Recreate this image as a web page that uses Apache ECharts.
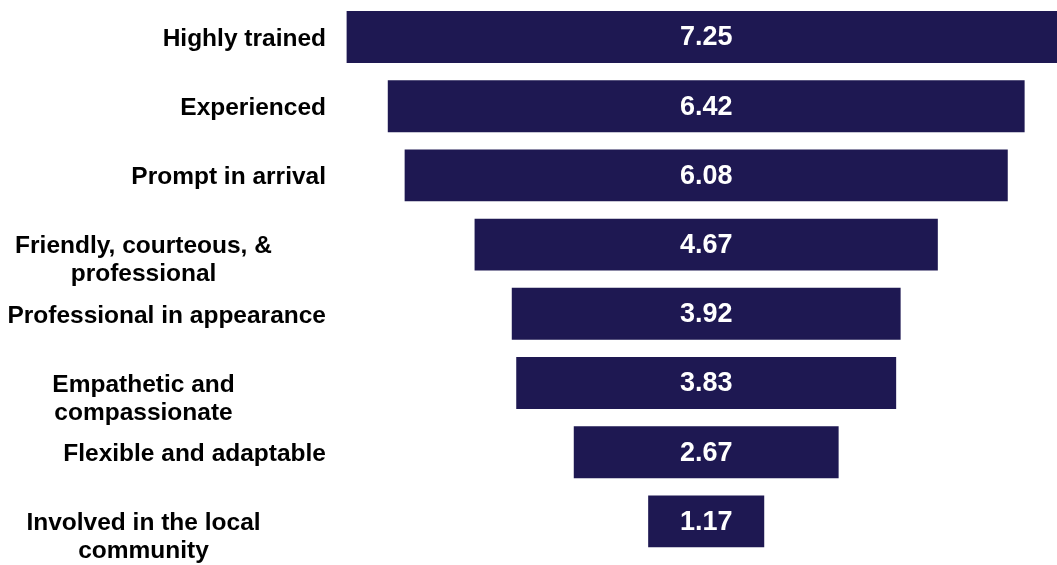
<!DOCTYPE html>
<html>
<head>
<meta charset="utf-8">
<script src="https://cdn.jsdelivr.net/npm/echarts@6/dist/echarts.min.js"></script>
<style>
  html, body { margin: 0; padding: 0; background: #ffffff; }
  #chart { width: 1057px; height: 565px; }
</style>
</head>
<body>
<div id="chart"></div>
<script>
// Attribute labels, top to bottom
const categories = [
  'Highly trained',
  'Experienced',
  'Prompt in arrival',
  'Friendly, courteous, &\nprofessional',
  'Professional in appearance',
  'Empathetic and\ncompassionate',
  'Flexible and adaptable',
  'Involved in the local\ncommunity'
];

// Average score per attribute
const scores = [7.25, 6.42, 6.08, 4.67, 3.92, 3.83, 2.67, 1.17];

// Span of the value axis; bars are centred on its midpoint
const AXIS_SPAN = 7.464;

const BAR_COLOR = '#1e1852';
const FONT = '"Liberation Sans", Arial, sans-serif';
const LABEL_SIZE = 24.5;
const LINE_H = 28;

const chart = echarts.init(document.getElementById('chart'));

// Invisible spacer that pushes each bar so that it sits centred on the axis
const spacer = scores.map(v => (AXIS_SPAN - v) / 2);

chart.setOption({
  animation: false,
  grid: {
    left: 336, top: 2.4, width: 740.4, bottom: 9,
    containLabel: false,
    outerBoundsMode: 'none'
  },
  xAxis: {
    type: 'value',
    min: 0,
    max: AXIS_SPAN,
    show: false
  },
  yAxis: {
    type: 'category',
    data: categories,
    inverse: true,
    axisLine: { show: false },
    axisTick: { show: false },
    splitLine: { show: false },
    axisLabel: {
      margin: 10,
      align: 'right',
      color: '#000000',
      fontFamily: FONT,
      fontWeight: 'bold',
      fontSize: LABEL_SIZE,
      lineHeight: LINE_H,
      padding: [4, 0, 0, 0],
      formatter: function (name) {
        if (name.indexOf('\n') < 0) return name;
        // two-line labels: centred lines, first line level with the bar
        const lines = name.split('\n');
        return '{e|}\n' + lines.map(l => '{c|' + l + '}').join('\n');
      },
      rich: {
        e: { height: LINE_H, lineHeight: LINE_H },
        c: {
          width: 365,
          align: 'center',
          lineHeight: LINE_H,
          fontFamily: FONT,
          fontWeight: 'bold',
          fontSize: LABEL_SIZE,
          color: '#000000'
        }
      }
    }
  },
  series: [
    {
      type: 'bar',
      stack: 'funnel',
      data: spacer,
      itemStyle: { color: 'transparent' },
      barCategoryGap: '25%',
      silent: true
    },
    {
      type: 'bar',
      stack: 'funnel',
      data: scores,
      barCategoryGap: '25%',
      itemStyle: { color: BAR_COLOR },
      label: {
        show: true,
        position: 'inside',
        offset: [0, 1],
        color: '#ffffff',
        fontFamily: FONT,
        fontWeight: 'bold',
        fontSize: 27,
        formatter: p => p.value.toFixed(2)
      }
    }
  ]
});
</script>
</body>
</html>
